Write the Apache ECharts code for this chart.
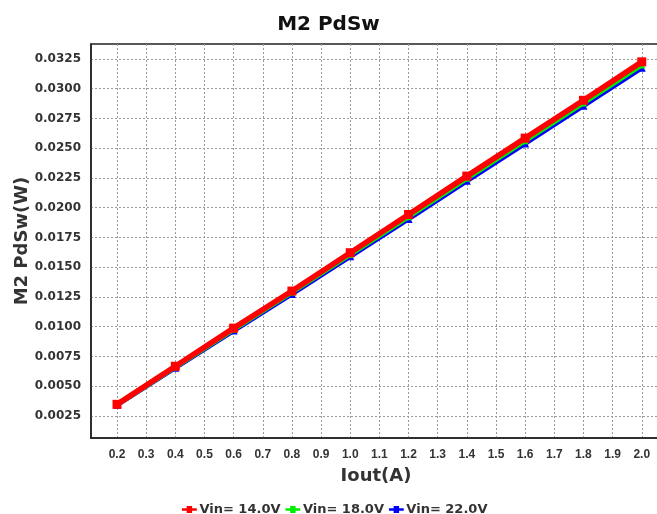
<!DOCTYPE html>
<html>
<head>
<meta charset="utf-8">
<script src="https://cdn.jsdelivr.net/npm/echarts@6/dist/echarts.min.js"></script>
<style>
  html, body { margin: 0; padding: 0; background: #fff; overflow: hidden; }
  #chart { width: 657px; height: 514px; }
</style>
</head>
<body>
<div id="chart"></div>
<script>
// Output current (A) at each measurement point
const iout = [0.2, 0.4, 0.6, 0.8, 1.0, 1.2, 1.4, 1.6, 1.8, 2.0];

// M2 switching loss (W) per input voltage
const pd14 = [0.00348, 0.00668, 0.00988, 0.01300, 0.01622, 0.01943, 0.02266, 0.02585, 0.02903, 0.03226];
const pd18 = [0.00346, 0.00662, 0.00978, 0.01290, 0.01608, 0.01925, 0.02247, 0.02563, 0.02880, 0.03200];
const pd22 = [0.00344, 0.00656, 0.00968, 0.01276, 0.01592, 0.01906, 0.02226, 0.02540, 0.02857, 0.03176];

const seriesNames = ['Vin= 14.0V', 'Vin= 18.0V', 'Vin= 22.0V'];
const seriesColors = ['#ff0000', '#00ee00', '#0000ff'];

// Tick positions
const xTicks = [0.2, 0.3, 0.4, 0.5, 0.6, 0.7, 0.8, 0.9, 1.0, 1.1, 1.2, 1.3, 1.4, 1.5, 1.6, 1.7, 1.8, 1.9, 2.0];
const yTicks = [0.0025, 0.0050, 0.0075, 0.0100, 0.0125, 0.0150, 0.0175, 0.0200, 0.0225, 0.0250, 0.0275, 0.0300, 0.0325];

const wide = 'DejaVu Sans, Verdana, sans-serif';
const narrow = 'Liberation Sans, Arial, sans-serif';

function pairs(ys) { return iout.map((x, i) => [x, ys[i]]); }

const chart = echarts.init(document.getElementById('chart'), null, { renderer: 'canvas' });

const gridLine = { show: true, lineStyle: { color: '#9a9a9a', type: [2, 2], width: 1 } };

// legend key: thin line with a block in the middle
const keyIcon = 'path://M0,3H6V0H13V3H19V6H13V9H6V6H0Z';

chart.setOption({
  animation: false,
  backgroundColor: '#ffffff',
  title: {
    text: 'M2 PdSw',
    left: 'center',
    top: 10,
    textStyle: { fontFamily: wide, fontWeight: 'bold', fontSize: 20, color: '#111' }
  },
  legend: {
    top: 498,
    left: 177,
    itemGap: 5,
    itemWidth: 18,
    itemHeight: 7,
    icon: keyIcon,
    data: seriesNames,
    textStyle: { fontFamily: wide, fontWeight: 'bold', fontSize: 13, color: '#333', padding: [0, 0, 0, -4] }
  },
  // plot area runs past the right edge, so no right border shows
  grid: {
    left: 91, right: -4, top: 44, bottom: 76,
    outerBoundsMode: 'none',
    show: true, borderColor: '#222', borderWidth: 1.5
  },
  xAxis: {
    type: 'value',
    min: 0.1108,
    max: 2.066,
    name: 'Iout(A)',
    nameLocation: 'middle',
    nameGap: 29,
    nameMoveOverlap: false,
    nameTextStyle: { fontFamily: wide, fontWeight: 'bold', fontSize: 18, color: '#333' },
    axisLine: { show: true, lineStyle: { color: '#222', width: 1.5 } },
    axisTick: { show: false, customValues: xTicks },
    axisLabel: {
      customValues: xTicks,
      formatter: v => v.toFixed(1),
      margin: 11,
      fontFamily: narrow, fontWeight: 'bold', fontSize: 12, color: '#333'
    },
    splitLine: gridLine
  },
  yAxis: {
    type: 'value',
    min: 0.00065,
    max: 0.03376,
    name: 'M2 PdSw(W)',
    nameLocation: 'middle',
    nameGap: 60,
    nameMoveOverlap: false,
    nameTextStyle: { fontFamily: wide, fontWeight: 'bold', fontSize: 18, color: '#333' },
    axisLine: { show: true, lineStyle: { color: '#222', width: 1.5 } },
    axisTick: { show: false, customValues: yTicks },
    axisLabel: {
      customValues: yTicks,
      formatter: v => v.toFixed(4),
      margin: 10,
      fontFamily: wide, fontWeight: 'bold', fontSize: 12, color: '#333'
    },
    splitLine: gridLine
  },
  series: [
    {
      name: seriesNames[2], type: 'line', data: pairs(pd22), z: 2,
      color: seriesColors[2], symbol: 'triangle', symbolSize: 8,
      lineStyle: { width: 5 }
    },
    {
      name: seriesNames[1], type: 'line', data: pairs(pd18), z: 3,
      color: seriesColors[1], symbol: 'triangle', symbolSize: 7,
      lineStyle: { width: 5 }
    },
    {
      name: seriesNames[0], type: 'line', data: pairs(pd14), z: 4,
      color: seriesColors[0], symbol: 'rect', symbolSize: 9,
      lineStyle: { width: 5.5 }
    }
  ]
});
</script>
</body>
</html>
